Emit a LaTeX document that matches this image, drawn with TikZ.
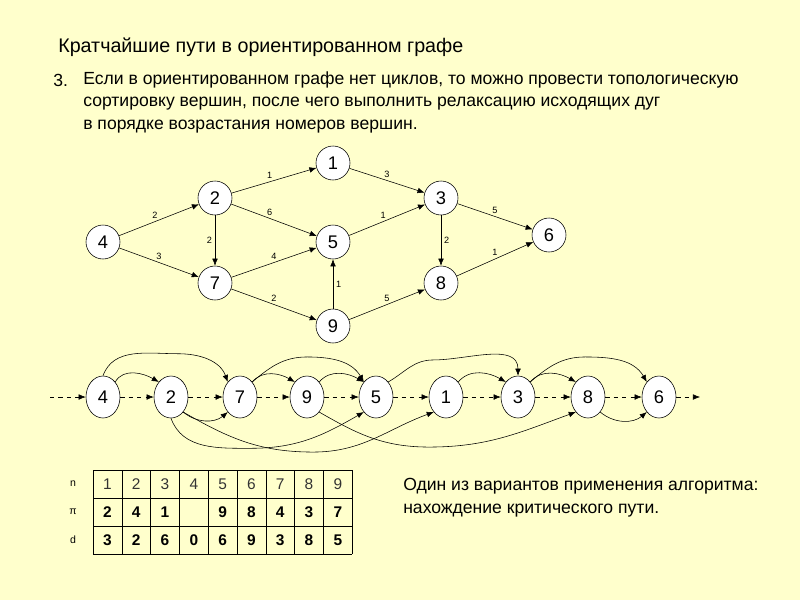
\documentclass[tikz,border=0pt]{standalone}
\usepackage{fontspec}
\setmainfont{Liberation Sans}
\usetikzlibrary{positioning}
\usetikzlibrary{arrows.meta}
\usetikzlibrary{shapes.geometric}
\definecolor{paper}{rgb}{1.0,1.0,0.8}
\newlength{\pxu}
\setlength{\pxu}{0.025cm}

\tikzset{
  vtx/.style={draw,circle,fill=white,minimum size=34\pxu,inner sep=0pt,font=\fontsize{13}{13}\selectfont},
  ovx/.style={draw,ellipse,fill=white,minimum width=34\pxu,minimum height=42\pxu,inner sep=0pt,font=\fontsize{13}{13}\selectfont},
  edge/.style={-{Latex[length=5pt,width=4pt]}},
  elab/.style={font=\fontsize{6.5}{7}\selectfont,inner sep=2pt},
  flow/.style={dashed,-{Latex[length=5pt,width=4pt]}},
}

\begin{document}
\begin{tikzpicture}[x=0.025cm,y=-0.025cm]

  \fill[paper] (0,0) rectangle (800,600);
  \useasboundingbox (0,0) rectangle (800,600);

  % heading
  \node[anchor=west,inner sep=0pt,font=\fontsize{14}{16}\selectfont] (title) at (58,47)
    {Кратчайшие пути в ориентированном графе};
  \node[anchor=west,inner sep=0pt,font=\fontsize{12.5}{14}\selectfont] (num) at (53,80) {3.};
  \node[anchor=north west,align=left,inner sep=0pt,font=\fontsize{12.5}{16}\selectfont] (item) at (83,71)
    {Если в ориентированном графе нет циклов, то можно провести топологическую\\
     сортировку вершин, после чего выполнить релаксацию исходящих дуг\\
     в порядке возрастания номеров вершин.};

  % graph
  \foreach \n/\x/\y in {1/333/163,2/215/198,3/441/198,4/103/242,5/333/242,
                        6/549/235,7/215/283,8/441/283,9/333/326}
    \node[vtx] (t\n) at (\x,\y) {\n};

  \draw[edge] (t4) -- node[elab,above,pos=0.45] {2} (t2);
  \draw[edge] (t4) -- node[elab,above,pos=0.5] {3} (t7);
  \draw[edge] (t2) -- node[elab,above,pos=0.45] {1} (t1);
  \draw[edge] (t2) -- node[elab,above,pos=0.45] {6} (t5);
  \draw[edge] (t2) -- node[elab,left] {2} (t7);
  \draw[edge] (t7) -- node[elab,above,pos=0.5] {4} (t5);
  \draw[edge] (t7) -- node[elab,above,pos=0.5] {2} (t9);
  \draw[edge] (t9) -- node[elab,right] {1} (t5);
  \draw[edge] (t1) -- node[elab,above,pos=0.5] {3} (t3);
  \draw[edge] (t5) -- node[elab,above,pos=0.45] {1} (t3);
  \draw[edge] (t3) -- node[elab,right] {2} (t8);
  \draw[edge] (t3) -- node[elab,above,pos=0.5] {5} (t6);
  \draw[edge] (t9) -- node[elab,above,pos=0.5] {5} (t8);
  \draw[edge] (t8) -- node[elab,above,pos=0.5] {1} (t6);

  % sorted order
  \coordinate (in) at (50,397);
  \coordinate (out) at (700,397);
  \foreach \n/\x in {4/103,2/171,7/240,9/307,5/376,1/446,3/518,8/588,6/659}
    \node[ovx] (b\n) at (\x,397) {\n};
  \draw[flow] (in) -- (b4);
  \foreach \a/\b in {4/2,2/7,7/9,9/5,5/1,1/3,3/8,8/6}
    \draw[flow] (b\a) -- (b\b);
  \draw[flow] (b6) -- (out);

  % arcs above
  \draw[edge] (b4.north east) to[out=60,in=150] (b2.north west);
  \draw[edge] (b4.north) to[out=70,in=180] ++(75,-22) to[out=0,in=110] (b7.north west);
  \draw[edge] (b7.north east) to[out=50,in=150] (b9.north west);
  \draw[edge] (b7.north east) to[out=40,in=180] ++(55,-25) to[out=0,in=120] (b5.north west);
  \draw[edge] (b9.north east) to[out=50,in=150] (b5.north west);
  \draw[edge] (b5.north east) to[out=30,in=180] ++(45,-22) to[out=0,in=90] (b3.north);
  \draw[edge] (b1.north east) to[out=50,in=150] (b3.north west);
  \draw[edge] (b3.north east) to[out=50,in=150] (b8.north west);
  \draw[edge] (b3.north east) to[out=40,in=180] ++(55,-25) to[out=0,in=120] (b6.north west);

  % arcs below
  \draw[edge] (b2.south east) to[out=-40,in=-140] (b7.south west);
  \draw[edge] (b2.south) to[out=-70,in=180] ++(80,30) to[out=0,in=-150] (b5.south west);
  \draw[edge] (b2.south east) to[out=-30,in=180] ++(130,40) to[out=0,in=-160] (b1.south west);
  \draw[edge] (b9.south east) to[out=-30,in=180] ++(110,35) to[out=0,in=-160] (b8.south west);
  \draw[edge] (b8.south east) to[out=-40,in=-140] (b6.south west);

  % table
  \foreach \r in {0,1,2,3}
    \draw (93,470+28*\r) -- (352,470+28*\r);
  \foreach \c in {0,...,9}
    \draw (93+28.8*\c,470) -- (93+28.8*\c,554);
  \node[font=\fontsize{7.5}{8}\selectfont] (rn) at (73,484) {n};
  \node[font=\fontsize{7.5}{8}\selectfont] (rp) at (73,512) {π};
  \node[font=\fontsize{7.5}{8}\selectfont] (rd) at (73,540) {d};
  \foreach \v [count=\i] in {1,...,9}
    \node[font=\fontsize{11}{12}\selectfont,gray!40!black] (n\i) at (78.6+28.8*\i,484) {\v};
  \foreach \v [count=\i] in {2,4,1,{},9,8,4,3,7}
    \node[font=\bfseries\fontsize{11}{12}\selectfont] (p\i) at (78.6+28.8*\i,512) {\v};
  \foreach \v [count=\i] in {3,2,6,0,6,9,3,8,5}
    \node[font=\bfseries\fontsize{11}{12}\selectfont] (d\i) at (78.6+28.8*\i,540) {\v};

  \node[anchor=north west,align=left,inner sep=0pt,font=\fontsize{12.5}{16}\selectfont] (note) at (403,478)
    {Один из вариантов применения алгоритма:\\нахождение критического пути.};

\end{tikzpicture}
\end{document}
